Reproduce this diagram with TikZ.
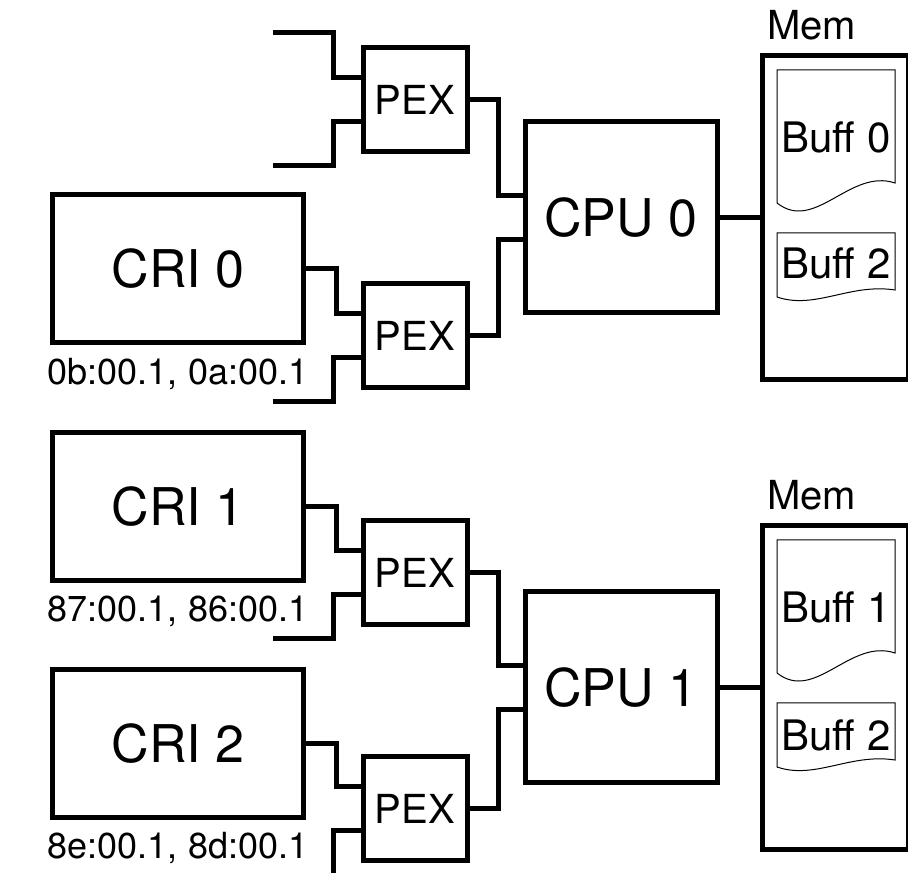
\documentclass[tikz,border=0pt]{standalone}
\usepackage{fontspec}
\setmainfont{TeX Gyre Heros}

\begin{document}
\begin{tikzpicture}[x=1pt,y=1pt,line width=5pt,
  cri/.style={draw,inner sep=0pt,minimum width=251pt,minimum height=148pt,font=\fontsize{52}{60}\selectfont},
  pex/.style={draw,inner sep=0pt,minimum width=104pt,minimum height=104pt,font=\fontsize{40}{48}\selectfont},
  cpu/.style={draw,inner sep=0pt,minimum width=192pt,minimum height=191pt,font=\fontsize{52}{60}\selectfont},
  mem/.style={draw,inner sep=0pt,minimum width=146pt,minimum height=324pt},
  addr/.style={anchor=base,inner sep=0pt,font=\fontsize{36}{42}\selectfont},
  lbl/.style={inner sep=0pt,font=\fontsize{40}{48}\selectfont},
  bufl/.style={inner sep=0pt,font=\fontsize{42}{48}\selectfont},
  doc/.style={line width=1pt}]
\useasboundingbox (0,0) rectangle (908,873);
% socket 0
\node[cri] (cri0) at (178,604) {CRI 0};
\node[addr] (addr0) at ([yshift=-39pt]cri0.south) {0b:00.1, 0a:00.1};
\node[pex] (pex0) at (415,773) {PEX};
\node[pex] (pex1) at (415,537.5) {PEX};
\node[cpu] (cpu0) at (621,655.5) {CPU 0};
\node[mem] (mem0) at (835,655.5) {};
\node[lbl,anchor=base west] (mlbl0) at ([shift={(5pt,13pt)}]mem0.north west) {Mem};
\coordinate (in0a) at (273,840); \coordinate (in0b) at (273,707); \coordinate (in1b) at (273,471);
\draw (in0a) -- ++(60,0) |- ([yshift=22pt]pex0.west);
\draw (in0b) -- ++(60,0) |- ([yshift=-22pt]pex0.west);
\draw (cri0.east) -- ++(30,0) |- ([yshift=22pt]pex1.west);
\draw (in1b) -- ++(60,0) |- ([yshift=-22pt]pex1.west);
\draw (pex0.east) -- ++(29,0) |- ([yshift=22pt]cpu0.west);
\draw (pex1.east) -- ++(29,0) |- ([yshift=-22pt]cpu0.west);
\draw (cpu0.east) -- (mem0.west);
\draw[doc] (777,670) -- (777,803) -- (895,803) -- (895,690) .. controls (850,705) and (815,640) .. cycle;
\node[bufl] (buf0) at (836,736) {Buff 0};
\draw[doc] (777,576) -- (777,640) -- (895,640) -- (895,583) .. controls (850,590) and (815,563) .. cycle;
\node[bufl] (buf2a) at (836,610) {Buff 2};
% socket 1
\node[cri] (cri1) at (178,366.5) {CRI 1};
\node[addr] (addr1) at ([yshift=-39pt]cri1.south) {87:00.1, 86:00.1};
\node[cri] (cri2) at (178,129.5) {CRI 2};
\node[addr] (addr2) at ([yshift=-39pt]cri2.south) {8e:00.1, 8d:00.1};
\node[pex] (pex2) at (415,300) {PEX};
\node[pex] (pex3) at (415,64) {PEX};
\node[cpu] (cpu1) at (621,185.5) {CPU 1};
\node[mem] (mem1) at (835,185.5) {};
\node[lbl,anchor=base west] (mlbl1) at ([shift={(5pt,13pt)}]mem1.north west) {Mem};
\coordinate (in2b) at (273,234); \coordinate (in3b) at (333,-10);
\draw (cri1.east) -- ++(30,0) |- ([yshift=22pt]pex2.west);
\draw (in2b) -- ++(60,0) |- ([yshift=-22pt]pex2.west);
\draw (cri2.east) -- ++(30,0) |- ([yshift=22pt]pex3.west);
\draw (in3b) |- ([yshift=-22pt]pex3.west);
\draw (pex2.east) -- ++(29,0) |- ([yshift=22pt]cpu1.west);
\draw (pex3.east) -- ++(29,0) |- ([yshift=-22pt]cpu1.west);
\draw (cpu1.east) -- (mem1.west);
\draw[doc] (777,200) -- (777,333) -- (895,333) -- (895,220) .. controls (850,235) and (815,170) .. cycle;
\node[bufl] (buf1) at (836,266) {Buff 1};
\draw[doc] (777,106) -- (777,170) -- (895,170) -- (895,113) .. controls (850,120) and (815,93) .. cycle;
\node[bufl] (buf2b) at (836,138) {Buff 2};
\end{tikzpicture}
\end{document}
